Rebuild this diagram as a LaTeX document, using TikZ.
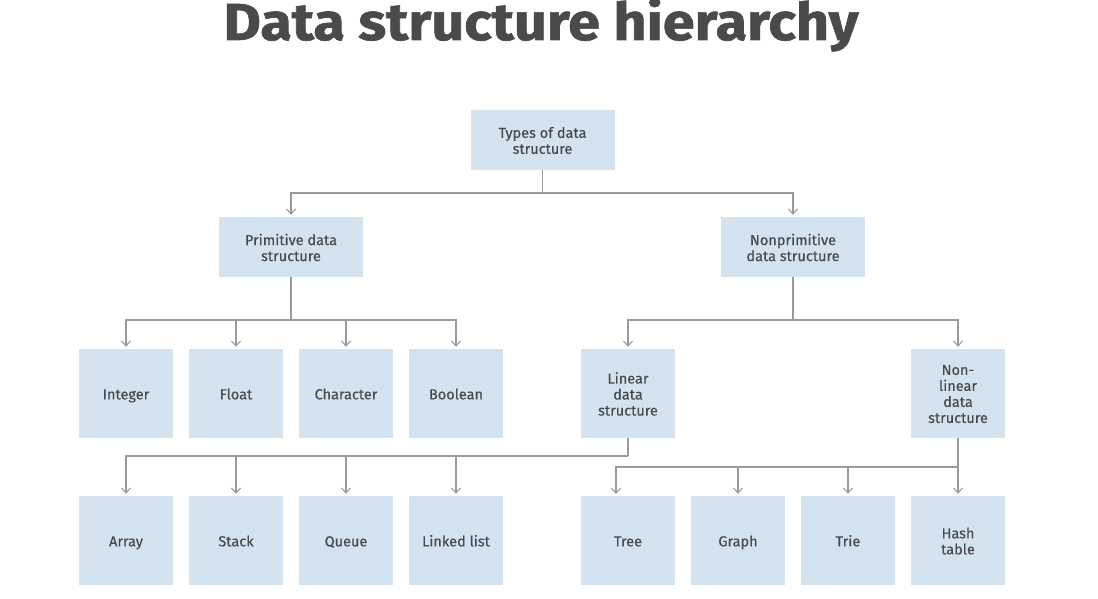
\documentclass[tikz,border=0pt]{standalone}
\usepackage{fontspec}
\setmainfont{Fira Sans}
\newfontfamily\lblfont[FakeBold=0.4]{Fira Sans}
\newfontfamily\ttlfont[FakeBold=1.2]{Fira Sans Bold}
\usetikzlibrary{arrows.meta}
\definecolor{boxfill}{HTML}{D3E4F0}
\definecolor{txt}{HTML}{4A4A4C}
\definecolor{line}{HTML}{9A9A9A}
\tikzset{
  box/.style={rectangle, fill=boxfill, draw=none, inner sep=0pt, text=txt,
    font=\lblfont\fontsize{14.5}{16}\selectfont, align=center,
    execute at begin node={\rule{0pt}{16.5pt}}, execute at end node=\strut},
  mltext/.style={text=txt, inner sep=0pt, font=\lblfont\fontsize{14.5}{16}\selectfont,
    align=center, yshift=-0.5pt},
  wide/.style={box, minimum width=144pt, minimum height=60pt},
  sq/.style={box, minimum width=94pt, minimum height=89pt},
  conn/.style={draw=line, line width=1.1pt},
  arr/.style={conn, -{Straight Barb[length=5pt,width=9pt,line width=1.1pt]}, shorten >=2pt}
}
\begin{document}
\begin{tikzpicture}[x=1pt,y=-1pt]
\useasboundingbox (0,0) rectangle (1098,599);
\node[text=txt, font=\ttlfont\fontsize{52}{56}\selectfont, anchor=base, xscale=1.105] (title) at (541,40) {Data structure hierarchy};
\node[wide, label={[mltext]center:{Types of data\\structure}}] (types) at (542.5,140) {};
\node[wide, label={[mltext]center:{Primitive data\\structure}}] (prim) at (291,247) {};
\node[wide, label={[mltext]center:{Nonprimitive\\data structure}}] (nonprim) at (793,247) {};
\node[sq] (int) at (126,393.5) {Integer};
\node[sq] (float) at (236,393.5) {Float};
\node[sq] (char) at (346,393.5) {Character};
\node[sq] (bool) at (456,393.5) {Boolean};
\node[sq, label={[mltext]center:{Linear\\data\\structure}}] (lin) at (628,393.5) {};
\node[sq, label={[mltext]center:{Non-\\linear\\data\\structure}}] (nonlin) at (958,393.5) {};
\node[sq] (array) at (126,540.5) {Array};
\node[sq] (stack) at (236,540.5) {Stack};
\node[sq] (queue) at (346,540.5) {Queue};
\node[sq] (llist) at (456,540.5) {Linked list};
\node[sq] (tree) at (628,540.5) {Tree};
\node[sq] (graph) at (738,540.5) {Graph};
\node[sq] (trie) at (848,540.5) {Trie};
\node[sq, label={[mltext]center:{Hash\\table}}] (hash) at (958,540.5) {};
% bus 1
\coordinate (b1) at (542.5,193);
\draw[conn] (types) -- (b1);
\draw[arr] (b1) -| (prim);
\draw[arr] (b1) -| (nonprim);
% bus 2
\coordinate (b2) at (291,320);
\draw[conn] (prim) -- (b2);
\foreach \n in {int,float,char,bool} \draw[arr] (b2) -| (\n);
% bus 3
\coordinate (b3) at (793,320);
\draw[conn] (nonprim) -- (b3);
\draw[arr] (b3) -| (lin);
\draw[arr] (b3) -| (nonlin);
% bus 4
\coordinate (b4) at (628,456);
\draw[conn] (lin) -- (b4);
\foreach \n in {array,stack,queue,llist} \draw[arr] (b4) -| (\n);
% bus 5
\coordinate (b5) at (958,467);
\coordinate (treein) at (616,496);
\draw[conn] (nonlin) -- (b5);
\draw[arr] (b5) -| (treein);
\draw[arr] (b5) -| (graph);
\draw[arr] (b5) -| (trie);
\draw[arr] (b5) -- (hash);
\end{tikzpicture}
\end{document}
